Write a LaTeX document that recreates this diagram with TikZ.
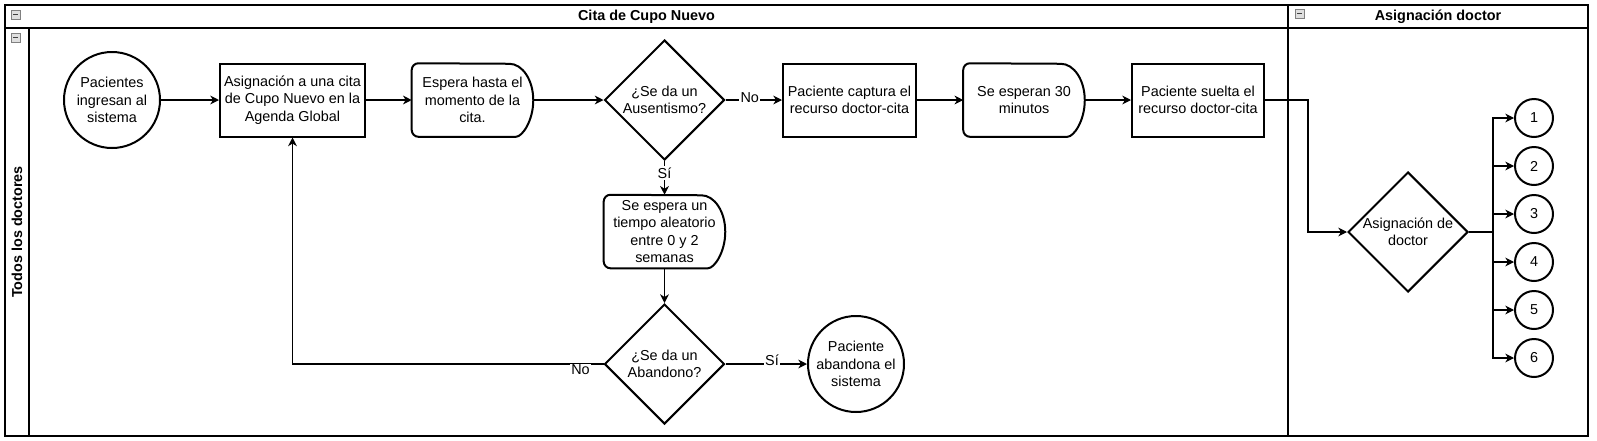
\documentclass[tikz,border=0pt]{standalone}
\usepackage{fontspec}
\setmainfont{Liberation Sans}
\usetikzlibrary{shapes.geometric,arrows.meta,calc}
\newcommand{\delayshape}[1]{%
  \draw[shp] ($(#1.south east)+(-24,0)$) arc[start angle=-90,end angle=90,x radius=18pt,y radius=27.375pt]
    [rounded corners=5pt] -- (#1.north west) -- (#1.south west) -- cycle;}
\newcommand{\minusicon}[2]{%
  \draw[gray, fill=gray!25, line width=0.6pt] (#1,#2) rectangle ++(9,9);
  \draw[black!75, line width=0.9pt] ($(#1,#2)+(2,4.5)$) -- ++(5,0);}
\begin{document}
\begin{tikzpicture}[x=0.75pt,y=-0.75pt,
  every node/.style={font=\fontsize{10.8pt}{13pt}\selectfont, align=center},
  txt/.style={align=center, inner sep=0pt},
  shp/.style={draw=black, line width=1.5pt},
  procbox/.style={shp, rectangle, minimum height=54.75pt, inner sep=0pt},
  delaybox/.style={rectangle, minimum width=90.75pt, minimum height=54.75pt, inner sep=0pt},
  circ/.style={shp, circle, minimum size=72pt, inner sep=0pt},
  smallc/.style={shp, circle, minimum size=28.5pt, inner sep=0pt},
  dec/.style={shp, diamond, minimum width=90pt, minimum height=90pt, inner sep=0pt},
  conn/.style={line width=1pt, -{Stealth[length=6.5pt,width=6.5pt,inset=2pt]}},
  elbl/.style={fill=white, inner sep=1pt},
  pool/.style={line width=1.1pt},
  ttl/.style={font=\bfseries\fontsize{10.8pt}{13pt}\selectfont},
]
\useasboundingbox (0,0) rectangle (1597,440);
\fill[white] (0,0) rectangle (1597,440);

% pools and lanes
\draw[pool] (5,5) rectangle (1588,436);
\draw[pool] (1288,5) -- (1288,436);
\draw[pool] (5,28) -- (1588,28);
\draw[pool] (29,28) -- (29,436);
\minusicon{11}{10}
\minusicon{11}{33}
\minusicon{1295}{9}
\node[ttl] (t1) at (646.5,16.5) {Cita de Cupo Nuevo};
\node[ttl] (t2) at (1438,16.5) {Asignación doctor};
\node[ttl, rotate=90] (t3) at (17,232) {Todos los doctores};

% nodes
\node[circ, label={[txt]center:{Pacientes\\ingresan al\\sistema}}] (c1) at (112,100) {};
\node[procbox, minimum width=108.75pt] (b1) at (292.5,100) {Asignación a una cita\\de Cupo Nuevo en la\\Agenda Global};
\node[delaybox] (d1) at (472.5,100) {Espera hasta el\\momento de la\\cita.};
\delayshape{d1}
\node[dec, label={[txt]center:{¿Se da un\\Ausentismo?}}] (q1) at (664.5,100) {};
\node[procbox, minimum width=99.75pt] (b2) at (849.5,100) {Paciente captura el\\recurso doctor-cita};
\node[delaybox] (w2) at (1024,100) {Se esperan 30\\minutos};
\delayshape{w2}
\node[procbox, minimum width=99pt] (b3) at (1198,100) {Paciente suelta el\\recurso doctor-cita};
\node[delaybox] (w3) at (664.5,231.5) {Se espera un\\tiempo aleatorio\\entre 0 y 2\\semanas};
\delayshape{w3}
\node[dec, label={[txt]center:{¿Se da un\\Abandono?}}] (q2) at (664.5,364) {};
\node[circ, label={[txt]center:{Paciente\\abandona el\\sistema}}] (c2) at (856,364) {};
\node[dec, label={[txt]center:{Asignación de\\doctor}}] (q3) at (1408,232) {};
\foreach \k/\yy in {1/118,2/166,3/214,4/262,5/310,6/358}{
  \node[smallc] (n\k) at (1534,\yy) {\k};
}

% connectors
\draw[conn] (c1) -- (b1);
\draw[conn] (b1) -- (d1);
\draw[conn] (d1) -- (q1);
\draw[conn] (q1) -- (b2) node[elbl, pos=0.43, yshift=2pt] (lno1) {No};
\draw[conn] (b2) -- (w2);
\draw[conn] (w2) -- (b3);
\draw[conn] (b3.east) -- ++(43,0) |- (q3.west);
\draw[conn] (q1.south) -- (w3.north) node[elbl, pos=0.36] (lsi1) {Sí};
\draw[conn] (w3.south) -- (q2.north);
\draw[conn] (q2.west) -| (b1.south) node[elbl, pos=0.037, yshift=-4.5pt] (lno2) {No};
\draw[conn] (q2.east) -- (c2) node[elbl, pos=0.57, yshift=3pt] (lsi2) {Sí};
\foreach \k in {1,...,6}{
  \draw[conn] (q3.east) -- ++(24,0) |- (n\k.west);
}
\end{tikzpicture}
\end{document}
